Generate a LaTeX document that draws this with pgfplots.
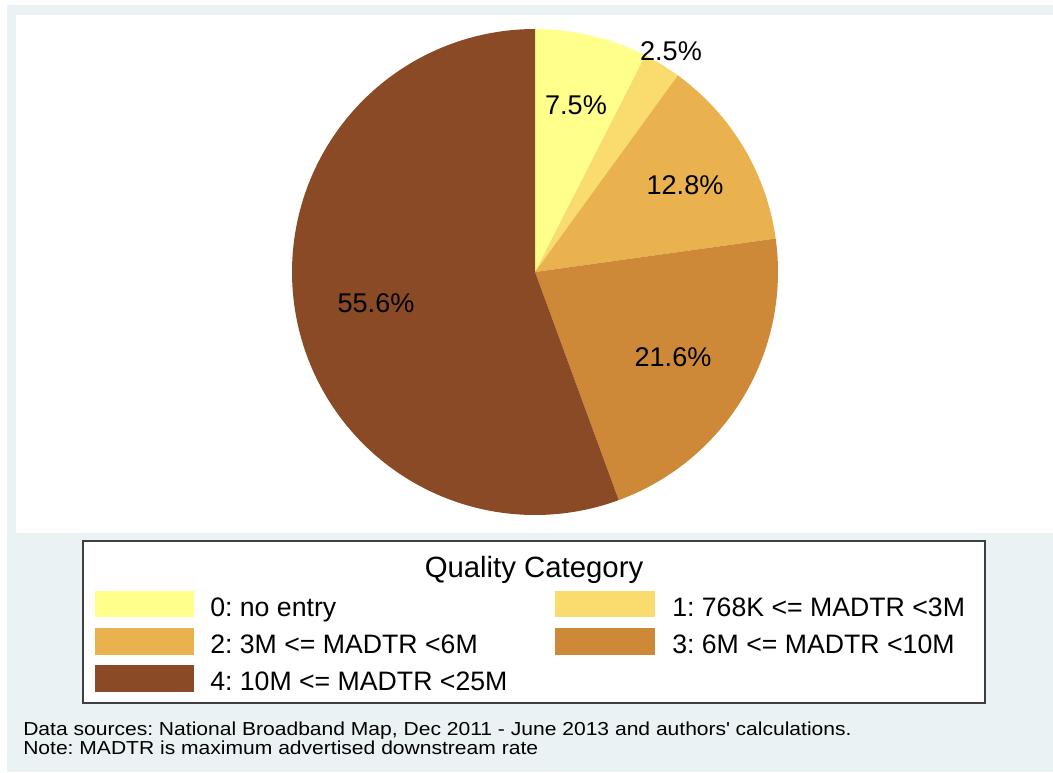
\documentclass[border=0pt]{standalone}
\usepackage{pgfplots}
\pgfplotsset{compat=1.18}
\usepackage{fontspec}
\setmainfont{Liberation Sans}
\newfontfamily\notefont[FakeStretch=1.12]{Liberation Sans}
\frenchspacing
\definecolor{bgc}{RGB}{234,242,243}
\definecolor{c0}{RGB}{255,255,140}
\definecolor{c1}{RGB}{250,220,110}
\definecolor{c2}{RGB}{233,178,78}
\definecolor{c3}{RGB}{205,137,56}
\definecolor{c4}{RGB}{137,74,37}
\begin{document}
\begin{tikzpicture}
% slice shares (percent)
\def\vA{7.5}\def\vB{2.5}\def\vC{12.8}\def\vD{21.6}\def\vE{55.6}
\pgfmathsetmacro\aA{90}
\pgfmathsetmacro\aB{\aA-3.6*\vA}
\pgfmathsetmacro\aC{\aB-3.6*\vB}
\pgfmathsetmacro\aD{\aC-3.6*\vC}
\pgfmathsetmacro\aE{\aD-3.6*\vD}
\pgfmathsetmacro\aF{\aE-3.6*\vE}
\begin{axis}[
  width=789.75pt, height=579pt, scale only axis,
  xmin=0, xmax=1053, ymin=0, ymax=772, y dir=reverse,
  axis lines=none, clip=false,
]
\fill[white] (0,0) rectangle (1053,772);
\fill[bgc] (7,5) rectangle (1053,772);
\fill[white] (16,15) rectangle (1053,533);

\addplot[draw=none, fill=c0, domain=\aB:\aA, samples=40, variable=\t]
  ({535+243*cos(\t)},{272-243*sin(\t)}) -- (535,272) -- cycle;
\addplot[draw=none, fill=c1, domain=\aC:\aB, samples=20, variable=\t]
  ({535+243*cos(\t)},{272-243*sin(\t)}) -- (535,272) -- cycle;
\addplot[draw=none, fill=c2, domain=\aD:\aC, samples=50, variable=\t]
  ({535+243*cos(\t)},{272-243*sin(\t)}) -- (535,272) -- cycle;
\addplot[draw=none, fill=c3, domain=\aE:\aD, samples=70, variable=\t]
  ({535+243*cos(\t)},{272-243*sin(\t)}) -- (535,272) -- cycle;
\addplot[draw=none, fill=c4, domain=\aF:\aE, samples=150, variable=\t]
  ({535+243*cos(\t)},{272-243*sin(\t)}) -- (535,272) -- cycle;

\begin{scope}[every node/.style={font=\fontsize{20.3}{24}\selectfont, inner sep=0pt, anchor=center}]
\node at (576,105) {7.5\%};
\node at (671,51) {2.5\%};
\node at (685,185) {12.8\%};
\node at (673,357) {21.6\%};
\node at (376,303) {55.6\%};
\end{scope}

% legend
\draw[draw=black!75, line width=0.9pt, fill=white] (83,541) rectangle (985,703);
\node[anchor=base, inner sep=0pt, font=\fontsize{22}{26}\selectfont] at (534,577) {Quality Category};
\fill[c0] (95,591) rectangle (194,617);
\fill[c2] (95,628) rectangle (194,655);
\fill[c4] (95,665) rectangle (194,692);
\fill[c1] (555,591) rectangle (655,617);
\fill[c3] (555,628) rectangle (655,655);
\begin{scope}[every node/.style={font=\fontsize{20}{24}\selectfont, inner sep=0pt, anchor=base west}]
\node at (210,616) {0: no entry};
\node at (210,653) {2: 3M <= MADTR <6M};
\node at (210,690.5) {4: 10M <= MADTR <25M};
\node at (672,616) {1: 768K <= MADTR <3M};
\node at (672,653) {3: 6M <= MADTR <10M};
\end{scope}

% note
\begin{scope}[every node/.style={font=\notefont\fontsize{14.1}{17}\selectfont, inner sep=0pt, anchor=base west}]
\node at (23,735.5) {Data sources: National Broadband Map, Dec 2011 - June 2013 and authors\textquotesingle\ calculations.};
\node at (23,754) {Note: MADTR is maximum advertised downstream rate};
\end{scope}
\end{axis}
\end{tikzpicture}
\end{document}
